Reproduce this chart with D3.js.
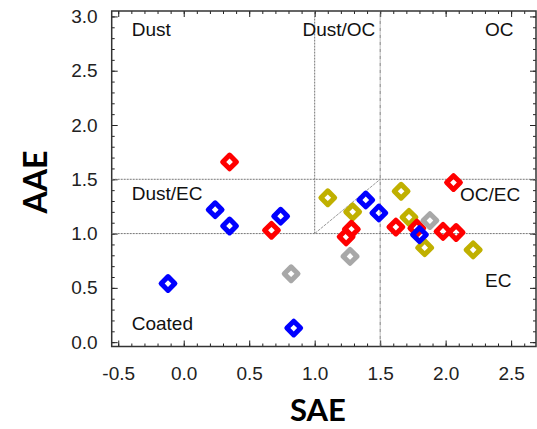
<!DOCTYPE html>
<html>
<head>
<meta charset="utf-8">
<script src="https://cdn.jsdelivr.net/npm/d3@7/dist/d3.min.js"></script>
<style>
  body { margin: 0; background: #fff; }
  svg { display: block; }
  .tick text { font-family: "Liberation Sans", Arial, sans-serif; }
</style>
</head>
<body>
<div id="chart"></div>
<script>
// SAE (x) / AAE (y) pairs per group
const redSAE    = [0.35, 0.67, 1.28, 1.24, 1.62, 1.78, 1.98, 2.08, 2.06];
const redAAE    = [1.66, 1.03, 1.04, 0.97, 1.06, 1.05, 1.02, 1.01, 1.47];
const yellowSAE = [1.10, 1.29, 1.66, 1.72, 1.84, 2.21];
const yellowAAE = [1.33, 1.20, 1.39, 1.15, 0.87, 0.85];
const graySAE   = [0.82, 1.27, 1.88];
const grayAAE   = [0.63, 0.79, 1.12];
const blueSAE   = [-0.12, 0.84, 0.24, 0.35, 0.74, 1.39, 1.49, 1.80];
const blueAAE   = [0.54, 0.13, 1.22, 1.07, 1.16, 1.31, 1.19, 0.99];

const xTicks = [-0.5, 0.0, 0.5, 1.0, 1.5, 2.0, 2.5];
const yTicks = [0.0, 0.5, 1.0, 1.5, 2.0, 2.5, 3.0];

const regionLabels = ['Dust', 'Dust/OC', 'OC', 'Dust/EC', 'OC/EC', 'EC', 'Coated'];

const groups = [
  { name: 'yellow', color: '#c0b000', sae: yellowSAE, aae: yellowAAE },
  { name: 'red',    color: '#ff0000', sae: redSAE,    aae: redAAE },
  { name: 'gray',   color: '#a8a8a8', sae: graySAE,   aae: grayAAE },
  { name: 'blue',   color: '#0000ff', sae: blueSAE,   aae: blueAAE }
];

const width = 537, height = 429;
const margin = { top: 11, right: 1, bottom: 82.5, left: 111.7 };

const svg = d3.select('#chart').append('svg')
  .attr('width', width)
  .attr('height', height);

const x = d3.scaleLinear().domain([-0.55, 2.69]).range([margin.left, width - margin.right]);
const y = d3.scaleLinear().domain([-0.04, 3.05]).range([height - margin.bottom, margin.top]);

const x0 = x.range()[0], x1 = x.range()[1];
const y0 = y.range()[0], y1 = y.range()[1];

const minorX = d3.range(-0.5, 2.69, 0.1).map(v => +v.toFixed(2));
const minorY = d3.range(0, 3.05, 0.1).map(v => +v.toFixed(2));

function styleAxis(g) {
  g.select('.domain').remove();
  g.selectAll('.tick line').attr('stroke', '#222').attr('stroke-width', 1);
}

// minor ticks (inward)
svg.append('g').attr('transform', `translate(0,${y0})`)
  .call(d3.axisBottom(x).tickValues(minorX).tickSize(-3).tickFormat(''))
  .call(styleAxis);
svg.append('g').attr('transform', `translate(0,${y1})`)
  .call(d3.axisTop(x).tickValues(minorX).tickSize(-3).tickFormat(''))
  .call(styleAxis);
svg.append('g').attr('transform', `translate(${x0},0)`)
  .call(d3.axisLeft(y).tickValues(minorY).tickSize(-3).tickFormat(''))
  .call(styleAxis);
svg.append('g').attr('transform', `translate(${x1},0)`)
  .call(d3.axisRight(y).tickValues(minorY).tickSize(-3).tickFormat(''))
  .call(styleAxis);

// major ticks with labels
svg.append('g').attr('transform', `translate(0,${y0})`)
  .call(d3.axisBottom(x).tickValues(xTicks).tickSize(-6).tickPadding(20).tickFormat(d3.format('.1f')))
  .call(styleAxis)
  .call(g => g.selectAll('.tick text')
    .attr('font-size', 19).attr('fill', '#222')
    .text(d => d < 0 ? '-' + Math.abs(d).toFixed(1) : d.toFixed(1)));
svg.append('g').attr('transform', `translate(0,${y1})`)
  .call(d3.axisTop(x).tickValues(xTicks).tickSize(-6).tickFormat(''))
  .call(styleAxis);
svg.append('g').attr('transform', `translate(${x0},0)`)
  .call(d3.axisLeft(y).tickValues(yTicks).tickSize(-6).tickPadding(14).tickFormat(d3.format('.1f')))
  .call(styleAxis)
  .call(g => g.selectAll('.tick text').attr('font-size', 19).attr('fill', '#222'));
svg.append('g').attr('transform', `translate(${x1},0)`)
  .call(d3.axisRight(y).tickValues(yTicks).tickSize(-6).tickFormat(''))
  .call(styleAxis);

// frame
svg.append('rect')
  .attr('x', x0).attr('y', y1)
  .attr('width', x1 - x0).attr('height', y0 - y1)
  .attr('fill', 'none').attr('stroke', '#333').attr('stroke-width', 1.5);

// region divider lines
const divider = svg.append('g')
  .attr('stroke', '#777').attr('stroke-width', 1).attr('stroke-dasharray', '2,1')
  .attr('fill', 'none');
divider.append('line').attr('x1', x0).attr('x2', x1).attr('y1', y(1.5)).attr('y2', y(1.5));
divider.append('line').attr('x1', x0).attr('x2', x1).attr('y1', y(1.0)).attr('y2', y(1.0));
divider.append('line').attr('x1', x(1.0)).attr('x2', x(1.0)).attr('y1', y(1.0)).attr('y2', y1);
divider.append('line').attr('x1', x(1.5)).attr('x2', x(1.5)).attr('y1', y0).attr('y2', y1)
  .attr('stroke-dasharray', '4,1,1,1');
divider.append('line').attr('x1', x(1.0)).attr('x2', x(1.5)).attr('y1', y(1.0)).attr('y2', y(1.5))
  .attr('stroke', '#999').attr('stroke-dasharray', '3,1');

// region labels
const labelPos = [
  [131.7, 36], [302.5, 36], [485, 36],
  [131.7, 200], [460, 201], [485, 287], [131.7, 330]
];
svg.append('g')
  .selectAll('text')
  .data(regionLabels)
  .join('text')
  .attr('x', (d, i) => labelPos[i][0])
  .attr('y', (d, i) => labelPos[i][1])
  .attr('font-family', '"Liberation Sans", Arial, sans-serif')
  .attr('font-size', 19)
  .attr('fill', '#111')
  .text(d => d);

// markers: hollow diamonds
const diamond = d3.symbol().type(d3.symbolSquare).size(95);
groups.forEach(gr => {
  const pts = gr.sae.map((s, i) => ({ s, a: gr.aae[i] }));
  svg.append('g')
    .selectAll('path')
    .data(pts)
    .join('path')
    .attr('d', diamond)
    .attr('transform', d => `translate(${x(d.s)},${y(d.a)}) rotate(45)`)
    .attr('fill', 'none')
    .attr('stroke', gr.color)
    .attr('stroke-width', 5)
    .attr('stroke-linejoin', 'round');
});

// axis titles
svg.append('text')
  .attr('x', 318).attr('y', 421)
  .attr('text-anchor', 'middle')
  .attr('font-family', 'Lato, "Open Sans", sans-serif')
  .attr('font-weight', 'bold')
  .attr('font-size', 31)
  .text('SAE');
svg.append('text')
  .attr('transform', 'translate(47,182) rotate(-90)')
  .attr('text-anchor', 'middle')
  .attr('font-family', 'Lato, "Open Sans", sans-serif')
  .attr('font-weight', 'bold')
  .attr('font-size', 32)
  .text('AAE');
</script>
</body>
</html>
